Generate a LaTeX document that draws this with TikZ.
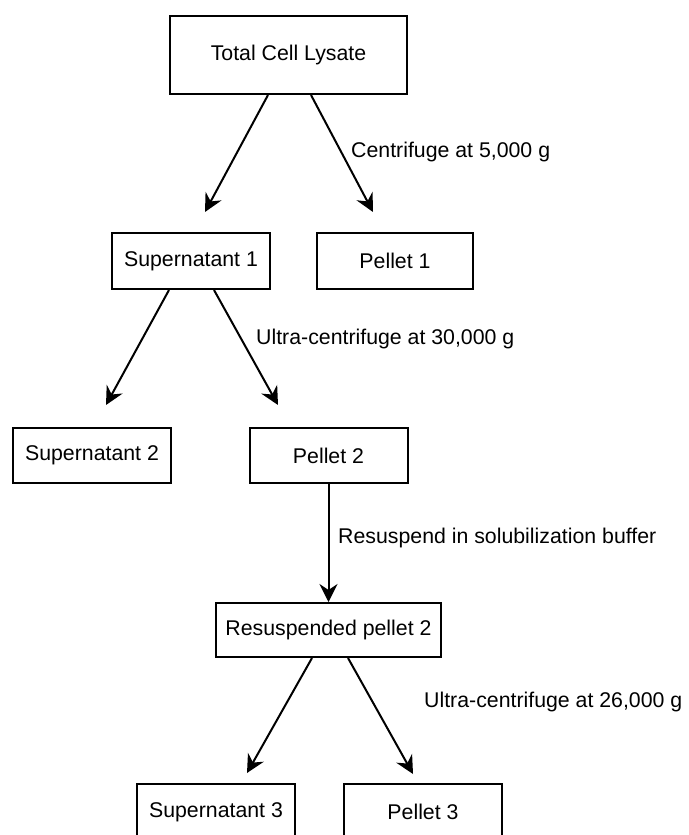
\documentclass[tikz,border=0pt]{standalone}
\usepackage{fontspec}
\setmainfont{Liberation Sans}
\usetikzlibrary{arrows.meta,calc}
\begin{document}
\begin{tikzpicture}[x=1pt,y=-1pt,
  box/.style={draw=black,line width=2pt,rectangle,inner sep=0pt,align=center,font=\fontsize{21.3}{25}\selectfont},
  lbl/.style={anchor=west,inner sep=0pt,font=\fontsize{21.3}{25}\selectfont},
  flow/.style={draw=black,line width=2pt,-{Stealth[length=18pt,width=18pt,inset=6pt]}}]
\useasboundingbox (0,0) rectangle (688,835);
% boxes
\node[box,minimum width=237pt,minimum height=78pt] (tcl) at (288.5,55) {Total Cell Lysate};
\node[box,minimum width=158pt,minimum height=56pt] (s1) at (191,261) {Supernatant 1};
\node[box,minimum width=156pt,minimum height=56pt] (p1) at (395,261) {Pellet 1};
\node[box,minimum width=158pt,minimum height=55pt] (s2) at (92,455.5) {Supernatant 2};
\node[box,minimum width=158pt,minimum height=55pt] (p2) at (328.5,455.5) {Pellet 2};
\node[box,minimum width=225pt,minimum height=54pt] (rp) at (328.5,630) {Resuspended pellet 2};
\node[box,minimum width=158pt,minimum height=56pt] (s3) at (216,812) {Supernatant 3};
\node[box,minimum width=158pt,minimum height=56pt] (p3) at (423,812) {Pellet 3};
% arrow tips (free ends)
\coordinate (t1) at (205,212);
\coordinate (t2) at (373,212);
\coordinate (t3) at (106,405);
\coordinate (t4) at (278,405);
\coordinate (t5) at (247,773);
\coordinate (t6) at (413,774);
% connectors
\draw[flow] ($(tcl.south)+(-20.5,0)$) -- (t1);
\draw[flow] ($(tcl.south)+(22.5,0)$) -- (t2);
\draw[flow] ($(s1.south)+(-22,0)$) -- (t3);
\draw[flow] ($(s1.south)+(23,0)$) -- (t4);
\draw[flow] (p2.south) -- (rp.north);
\draw[flow] ($(rp.south)+(-16.5,0)$) -- (t5);
\draw[flow] ($(rp.south)+(19.5,0)$) -- (t6);
% labels
\node[lbl] (l1) at (351,152) {Centrifuge at 5,000 g};
\node[lbl] (l2) at (256,339) {Ultra-centrifuge at 30,000 g};
\node[lbl] (l3) at (338,538) {Resuspend in solubilization buffer};
\node[lbl] (l4) at (424,702) {Ultra-centrifuge at 26,000 g};
\end{tikzpicture}
\end{document}
